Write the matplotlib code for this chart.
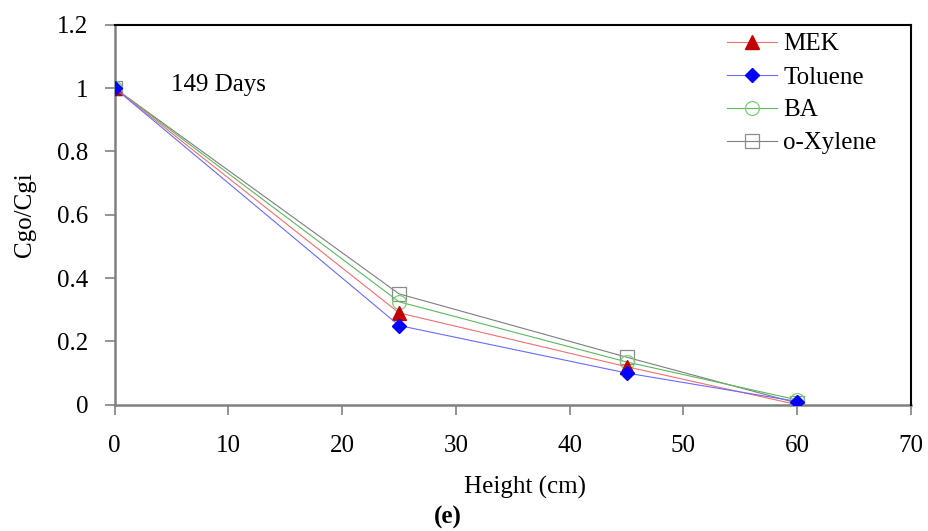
import matplotlib
matplotlib.use("Agg")
import matplotlib.pyplot as plt

plt.rcParams['font.family'] = ['Liberation Serif', 'DejaVu Serif']

height = [0, 25, 45, 60]
mek = [1.0, 0.29, 0.12, 0.0]
toluene = [1.0, 0.25, 0.10, 0.01]
ba = [1.0, 0.325, 0.135, 0.015]
xylene = [1.0, 0.35, 0.15, 0.005]

fig = plt.figure(figsize=(9.29, 5.31), dpi=100)
ax = fig.add_axes([0.1233, 0.2379, 0.8574, 0.7156])

ax.plot(height, xylene, color='#7f7f7f', lw=0.8, marker='s', ms=10,
        mfc='none', mec='#8c8c8c', mew=0.9, label='o-Xylene', zorder=3)
ax.plot(height, ba, color='#5cb85c', lw=0.8, marker='o', ms=10,
        mfc='none', mec='#7ccc7c', mew=0.9, label='BA', zorder=4)
ax.plot(height, mek, color='#f07070', lw=0.8, marker='^', ms=10,
        mfc='#c00000', mec='#c00000', label='MEK', zorder=5)
ax.plot(height, toluene, color='#6b6bff', lw=0.8, marker='D', ms=7.5,
        mfc='#0000ff', mec='#0000ff', label='Toluene', zorder=6)

ax.set_xlim(0, 70)
ax.set_ylim(0, 1.2)
ax.set_xticks(range(0, 71, 10))
ax.set_yticks([0, 0.2, 0.4, 0.6, 0.8, 1.0, 1.2])
ax.set_yticklabels(['0', '0.2', '0.4', '0.6', '0.8', '1', '1.2'])
ax.tick_params(labelsize=18, direction='out', length=7, width=1.2,
               color='#808080')
ax.tick_params(axis='y', pad=12)
ax.tick_params(axis='x', pad=15)

for s in ['left', 'bottom']:
    ax.spines[s].set_color('#808080')
    ax.spines[s].set_linewidth(1.8)
    ax.spines[s].set_zorder(1)
for s in ['top', 'right']:
    ax.spines[s].set_color('black')
    ax.spines[s].set_linewidth(1.5)

ax.set_xlabel('Height (cm)', fontsize=18, va='center')
ax.xaxis.set_label_coords(0.515, -0.217)
ax.set_ylabel('Cgo/Cgi', fontsize=18, va='center')
ax.yaxis.set_label_coords(-0.112, 0.5)

ax.text(0.0704, 0.842, '149 Days', transform=ax.transAxes, fontsize=18,
        va='center', ha='left')

handles, labels = ax.get_legend_handles_labels()
order = [2, 3, 1, 0]
ax.legend([handles[i] for i in order], [labels[i] for i in order],
          loc='upper left', bbox_to_anchor=(727 / 929, 1 - 33 / 531),
          bbox_transform=fig.transFigure, frameon=False,
          fontsize=18, handlelength=2.0, handletextpad=0.25,
          labelspacing=0.42, borderpad=0, borderaxespad=0)

fig.text(448 / 929, 1 - 517 / 531, '(e)', fontsize=18, fontweight='bold',
         ha='center', va='center')

fig.savefig('out.png', dpi=100)
